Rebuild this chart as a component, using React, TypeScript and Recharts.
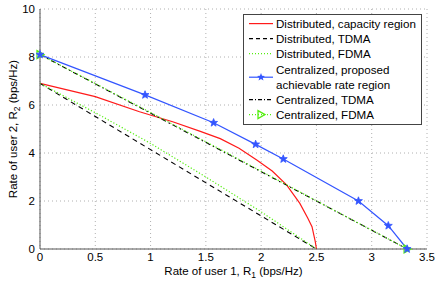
import React from "react";
import { LineChart, Line, XAxis, YAxis, CartesianGrid, Legend, Label } from "recharts";

const xTicks = [0, 0.5, 1, 1.5, 2, 2.5, 3, 3.5];
const yTicks = [0, 2, 4, 6, 8, 10];

// distributed capacity region (red)
const capX = [0, 0.5, 0.9, 1.2, 1.45, 1.63, 1.8, 1.96, 2.1, 2.23, 2.35, 2.42, 2.46, 2.49, 2.5];
const capY = [6.9, 6.35, 5.72, 5.3, 4.9, 4.6, 4.2, 3.71, 3.25, 2.67, 1.9, 1.3, 0.93, 0.3, 0];

const distTdmaX = [0, 2.5];
const distTdmaY = [6.9, 0];

const distFdmaX = [0, 0.5, 1.0, 1.5, 2.0, 2.5];
const distFdmaY = [6.9, 5.68, 4.4, 3.0, 1.55, 0];

// centralized, proposed achievable rate region (blue stars)
const propX = [0, 0.95, 1.57, 1.95, 2.2, 2.88, 3.15, 3.32];
const propY = [8.1, 6.42, 5.26, 4.36, 3.75, 2.0, 0.97, 0];

const cenTdmaX = [0, 3.32];
const cenTdmaY = [8.1, 0];

const cenFdmaX = [0, 0.8, 1.66, 2.5, 3.32];
const cenFdmaY = [8.1, 6.17, 4.08, 2.01, 0];

const zip = (xs: number[], ys: number[]) => xs.map((x, i) => ({ x, y: ys[i] }));

const RED = "#ff1a1a";
const BLUE = "#3355ff";
const GREEN = "#55ee11";
const FONT = "'Liberation Sans', Arial, sans-serif";

function starPath(cx: number, cy: number, r: number) {
  let d = "";
  for (let i = 0; i < 10; i++) {
    const rr = i % 2 === 0 ? r : r * 0.42;
    const a = -Math.PI / 2 + (i * Math.PI) / 5;
    d += (i === 0 ? "M" : "L") + (cx + rr * Math.cos(a)).toFixed(2) + "," + (cy + rr * Math.sin(a)).toFixed(2);
  }
  return d + "Z";
}

const StarDot = (props: any) => {
  const { cx, cy, index } = props;
  if (cx == null || cy == null) return <g key={index} />;
  return <path key={index} d={starPath(cx, cy, 4.2)} fill={BLUE} stroke={BLUE} strokeWidth={0.8} />;
};

const TriDot = (props: any) => {
  const { cx, cy, index } = props;
  const last = cenFdmaX.length - 1;
  if (cx == null || (index !== 0 && index !== last)) return <g key={index} />;
  return (
    <path key={index} d={`M${cx - 3},${cy - 4}L${cx + 4},${cy}L${cx - 3},${cy + 4}Z`} fill="none" stroke={GREEN} strokeWidth={1.3} />
  );
};

const legendRows = [
  { lines: ["Distributed, capacity region"], stroke: RED, dash: undefined, marker: null },
  { lines: ["Distributed, TDMA"], stroke: "#000", dash: "4 3", marker: null },
  { lines: ["Distributed, FDMA"], stroke: GREEN, dash: "1 2", marker: null },
  { lines: ["Centralized, proposed", "achievable rate region"], stroke: BLUE, dash: undefined, marker: "star" },
  { lines: ["Centralized, TDMA"], stroke: "#000", dash: "4 2 1 2", marker: null },
  { lines: ["Centralized, FDMA"], stroke: GREEN, dash: "1 2", marker: "tri" },
];

const renderLegend = () => (
  <div
    style={{
      border: "1px solid #444",
      background: "#fff",
      fontFamily: FONT,
      fontSize: 11.6,
      color: "#000",
      padding: "1px 2px 2px 4px",
      lineHeight: "15.2px",
      boxSizing: "border-box",
      width: 179,
      whiteSpace: "nowrap",
    }}
  >
    {legendRows.map((r, i) => (
      <div key={i} style={{ display: "flex", alignItems: "center" }}>
        <svg width={27} height={15.2 * r.lines.length} style={{ flex: "none" }}>
          <line x1={1} x2={25} y1={7.6 * r.lines.length} y2={7.6 * r.lines.length} stroke={r.stroke} strokeWidth={1.2} strokeDasharray={r.dash} />
          {r.marker === "star" && <path d={starPath(13, 7.6 * r.lines.length, 4.2)} fill={BLUE} />}
          {r.marker === "tri" && (
            <path d={`M10,${7.6 - 4}L17,7.6L10,${7.6 + 4}Z`} fill="none" stroke={GREEN} strokeWidth={1.3} />
          )}
        </svg>
        <div style={{ marginLeft: 1 }}>
          {r.lines.map((l, j) => (
            <div key={j}>{l}</div>
          ))}
        </div>
      </div>
    ))}
  </div>
);

const XLabel = (props: any) => {
  const vb = props.viewBox;
  const cx = vb.x + vb.width / 2;
  return (
    <text x={cx} y={275} textAnchor="middle" fontFamily={FONT} fontSize={11.5} fill="#000">
      Rate of user 1, R<tspan dy={3} fontSize={8.5}>1</tspan>
      <tspan dy={-3}> (bps/Hz)</tspan>
    </text>
  );
};

const YLabel = (props: any) => {
  const vb = props.viewBox;
  const cy = vb.y + vb.height / 2;
  return (
    <text x={0} y={0} transform={`translate(17,${cy}) rotate(-90)`} textAnchor="middle" fontFamily={FONT} fontSize={11.5} fill="#000">
      Rate of user 2, R<tspan dy={3} fontSize={8.5}>2</tspan>
      <tspan dy={-3}> (bps/Hz)</tspan>
    </text>
  );
};

export default function App() {
  const tickStyle = { fontFamily: FONT, fontSize: 11.5, fill: "#000" };
  return (
    <div style={{ position: "absolute", left: 0, top: 0, background: "#fff" }}>
      <LineChart width={436} height={285} margin={{ top: 9, right: 9, left: 0, bottom: 0 }}>
        <CartesianGrid stroke="#b0b0b0" strokeDasharray="1 3" />
        <XAxis
          type="number"
          dataKey="x"
          domain={[0, 3.5]}
          ticks={xTicks}
          height={36}
          tick={tickStyle}
          tickLine={false}
          tickSize={0}
          tickMargin={4}
          stroke="#555"
        >
          <Label content={XLabel} />
        </XAxis>
        <XAxis xAxisId="top" orientation="top" type="number" domain={[0, 3.5]} ticks={xTicks} height={0} tick={false} tickLine={false} stroke="#555" />
        <YAxis
          type="number"
          domain={[0, 10]}
          ticks={yTicks}
          width={40}
          tick={tickStyle}
          tickLine={false}
          tickSize={0}
          tickMargin={5}
          stroke="#555"
        >
          <Label content={YLabel} />
        </YAxis>
        <YAxis yAxisId="right" orientation="right" domain={[0, 10]} ticks={yTicks} width={0} tick={false} tickLine={false} stroke="#555" />
        <Line data={zip(capX, capY)} dataKey="y" stroke={RED} strokeWidth={1.2} dot={false} type="linear" isAnimationActive={false} />
        <Line data={zip(distTdmaX, distTdmaY)} dataKey="y" stroke="#000" strokeWidth={1.1} strokeDasharray="5 4" dot={false} isAnimationActive={false} />
        <Line data={zip(distFdmaX, distFdmaY)} dataKey="y" stroke={GREEN} strokeWidth={1.2} strokeDasharray="1.2 2" dot={false} isAnimationActive={false} />
        <Line data={zip(cenTdmaX, cenTdmaY)} dataKey="y" stroke="#000" strokeWidth={1.1} strokeDasharray="5 3 1.5 3" dot={false} isAnimationActive={false} />
        <Line data={zip(cenFdmaX, cenFdmaY)} dataKey="y" stroke={GREEN} strokeWidth={1.2} strokeDasharray="1.2 2" dot={TriDot} isAnimationActive={false} />
        <Line data={zip(propX, propY)} dataKey="y" stroke={BLUE} strokeWidth={1.2} dot={StarDot} isAnimationActive={false} />
        <Legend
          layout="vertical"
          align="center"
          verticalAlign="middle"
          content={renderLegend}
          wrapperStyle={{ left: 243, top: 14, width: 179 }}
        />
      </LineChart>
    </div>
  );
}
